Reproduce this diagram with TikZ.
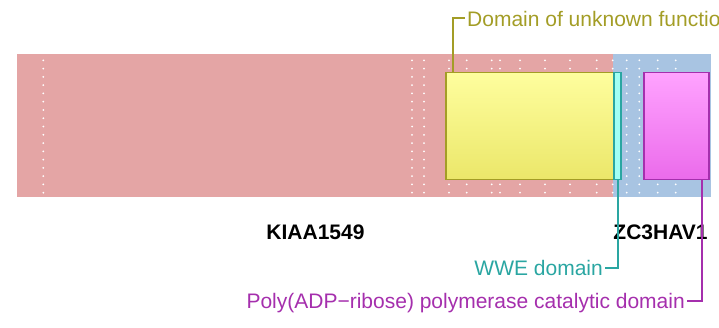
\documentclass[tikz,border=0pt]{standalone}
\usepackage{fontspec}
\setmainfont{Liberation Sans}
\usetikzlibrary{positioning,calc}

\definecolor{kiapink}{HTML}{E4A5A5}
\definecolor{zcblue}{HTML}{A8C4E2}
\definecolor{dufline}{HTML}{A39D26}
\definecolor{duftop}{HTML}{FEFE9E}
\definecolor{dufbot}{HTML}{EBE76A}
\definecolor{wweline}{HTML}{2AA6A2}
\definecolor{wwefill}{HTML}{A2FFF4}
\definecolor{parpline}{HTML}{A52FAD}
\definecolor{parptop}{HTML}{FFA3FF}
\definecolor{parpbot}{HTML}{EB6BEB}

\begin{document}
\begin{tikzpicture}[
  x=1pt, y=-1pt,
  font=\fontsize{21}{25}\selectfont,
  gene/.style={inner sep=0pt, anchor=north west, minimum height=143.4pt},
  domainbox/.style={draw, line width=1.5pt, inner sep=0pt, anchor=north west, minimum height=107pt},
  lbl/.style={inner sep=2pt, text height=16pt, text depth=0pt},
  genename/.style={font=\fontsize{21}{25}\selectfont\bfseries, anchor=base},
  link/.style={line width=2pt},
]
\useasboundingbox (0,0) rectangle (719,327);
\clip (0,0) rectangle (719,327);

% Genes: KIAA1549 -> ZC3HAV1
\node[gene, fill=kiapink, minimum width=595.7pt] (kiaa) at (17,53.3)    {};
\node[gene, fill=zcblue,  minimum width=98pt]    (zc3)  at (612.7,53.3) {};

% Exon marks
\foreach \x in {43.3,412,424,449,466.7,491.7,500,520,545,570,596.7,612.7,626.7,639.3,657.7,675.7}
  \foreach \k in {0,...,16}
    \fill[white] (\x,{60.3+8.275*\k}) circle[radius=1pt];

% Domains
\node[domainbox, draw=dufline, top color=duftop, bottom color=dufbot, minimum width=168pt] (duf)  at (445.3,71.5) {};
\node[domainbox, draw=wweline, fill=wwefill, minimum width=7pt]                           (wwe)  at (613.3,71.5) {};
\node[domainbox, draw=parpline, top color=parptop, bottom color=parpbot, minimum width=65pt] (parp) at (643.3,71.5) {};

% Gene names
\node[genename] (kiaaname) at (315.5,239.3) {KIAA1549};
\node[genename] (zc3name)  at (660.5,239.3) {ZC3HAV1};

% Domain labels
\node[lbl, anchor=west, text=dufline]  (dufname)  at (465,18.3)  {Domain of unknown function};
\node[lbl, anchor=east, text=wweline]  (wwename)  at (605,267.5) {WWE domain};
\node[lbl, anchor=east, text=parpline] (parpname) at (687,300.5) {Poly(ADP−ribose) polymerase catalytic domain};

\draw[link, dufline]  ([xshift=8pt]duf.north west)   |- (dufname.west);
\draw[link, wweline]  (wwe.south)                    |- (wwename.east);
\draw[link, parpline] ([xshift=-8pt]parp.south east) |- (parpname.east);

\end{tikzpicture}
\end{document}
